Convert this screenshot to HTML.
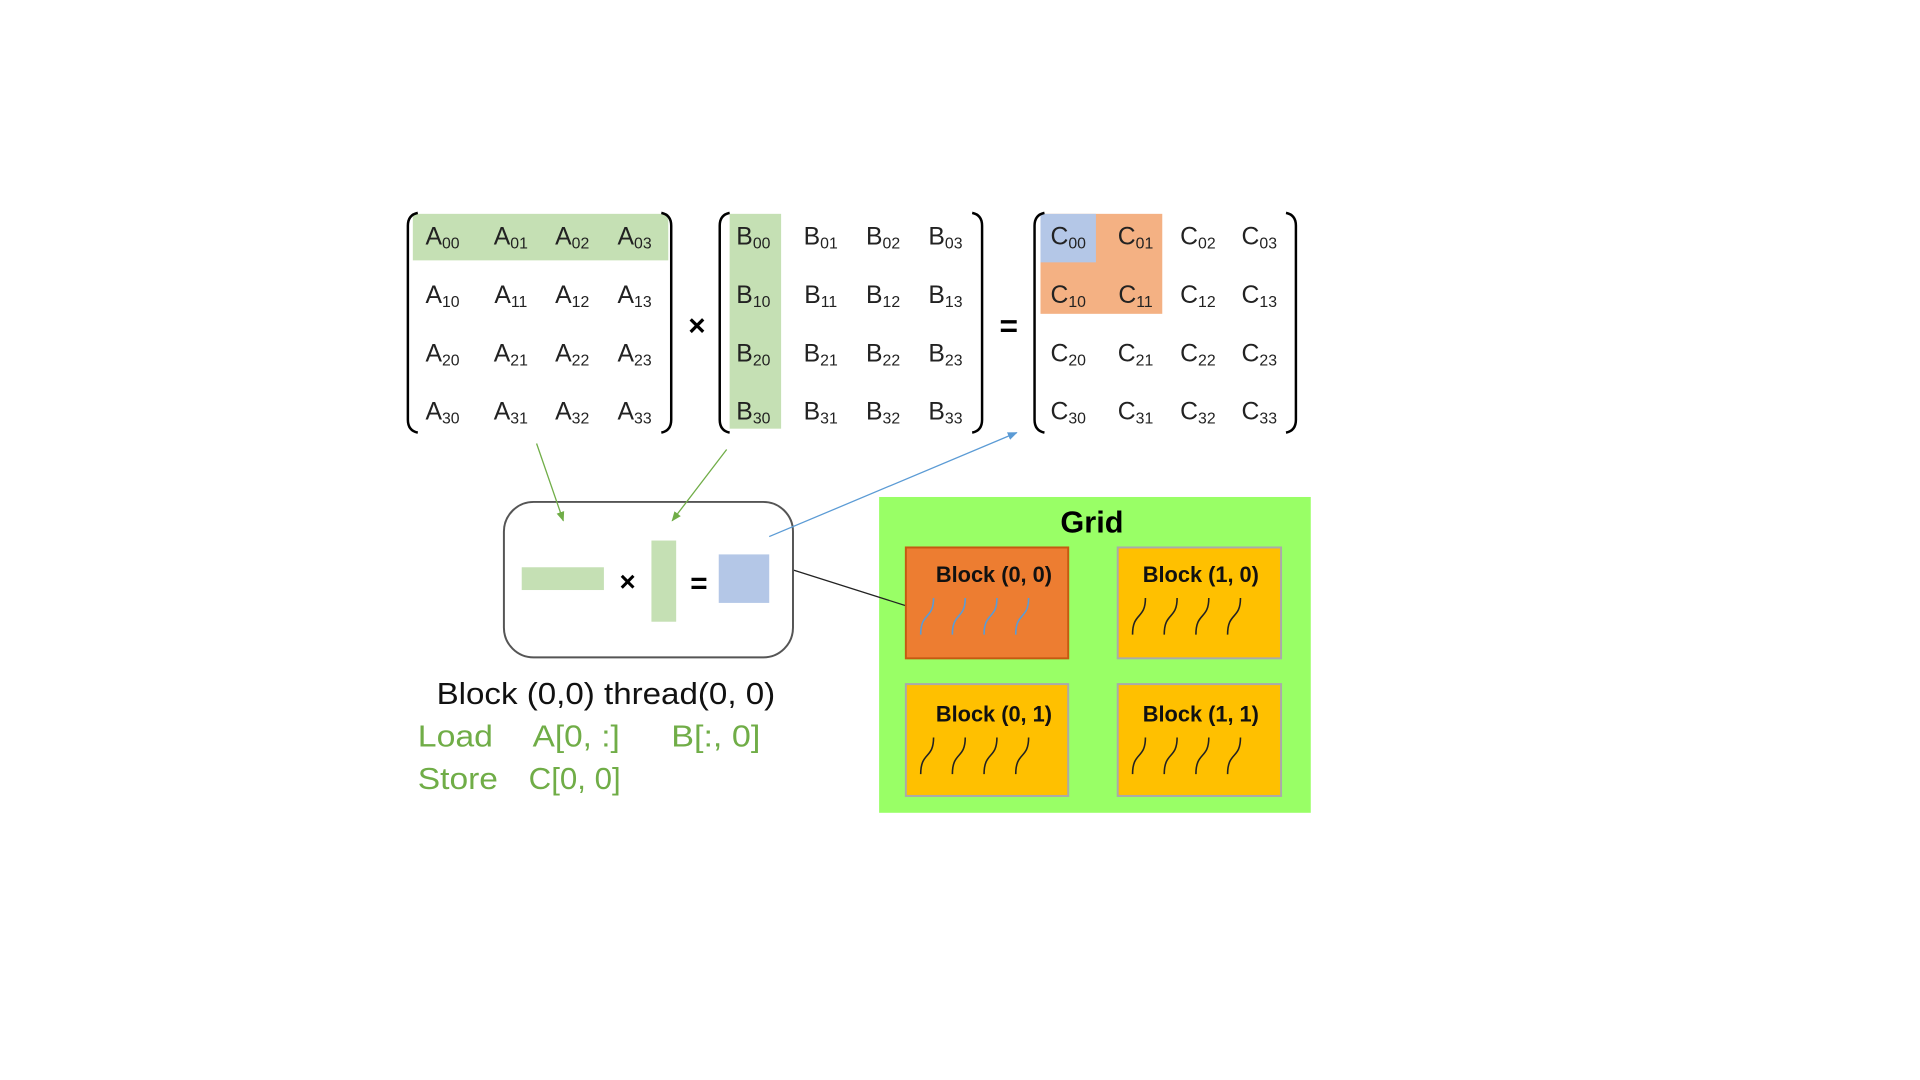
<!DOCTYPE html>
<html><head><meta charset="utf-8"><style>html,body{margin:0;padding:0;background:#fff}svg{display:block}</style></head>
<body>
<svg width="1920" height="1080" viewBox="0 0 1920 1080" xmlns="http://www.w3.org/2000/svg" font-family="Liberation Sans, sans-serif">
<defs>
<marker id="ag" markerWidth="10" markerHeight="10" refX="9" refY="5" orient="auto" markerUnits="userSpaceOnUse"><path d="M0,1 L10,5 L0,9 z" fill="#70ad47"/></marker>
<marker id="ab" markerWidth="10" markerHeight="10" refX="9" refY="5" orient="auto" markerUnits="userSpaceOnUse"><path d="M0,1 L10,5 L0,9 z" fill="#5b9bd5"/></marker>
</defs>
<g transform="scale(0.99)">
<rect x="417" y="216" width="258" height="47" fill="#c5e0b4"/>
<rect x="737" y="216" width="52" height="217" fill="#c5e0b4"/>
<rect x="1051" y="216" width="123" height="101" fill="#f4b183"/>
<rect x="1051" y="216" width="56" height="49" fill="#b4c7e7"/>
<g fill="none" stroke="#000" stroke-width="2.5">
<path d="M422,215 Q412,217 412,228 L412,424 Q412,435 422,437"/>
<path d="M668,215 Q678,217 678,228 L678,424 Q678,435 668,437"/>
<path d="M737,215 Q727,217 727,228 L727,424 Q727,435 737,437"/>
<path d="M982,215 Q992,217 992,228 L992,424 Q992,435 982,437"/>
<path d="M1055,215 Q1045,217 1045,228 L1045,424 Q1045,435 1055,437"/>
<path d="M1299,215 Q1309,217 1309,228 L1309,424 Q1309,435 1299,437"/>
</g>
<g font-size="25" fill="#222" text-anchor="middle">
<text x="447" y="247">A<tspan font-size="16" dy="4">00</tspan></text>
<text x="516" y="247">A<tspan font-size="16" dy="4">01</tspan></text>
<text x="578" y="247">A<tspan font-size="16" dy="4">02</tspan></text>
<text x="641" y="247">A<tspan font-size="16" dy="4">03</tspan></text>
<text x="447" y="306">A<tspan font-size="16" dy="4">10</tspan></text>
<text x="516" y="306">A<tspan font-size="16" dy="4">11</tspan></text>
<text x="578" y="306">A<tspan font-size="16" dy="4">12</tspan></text>
<text x="641" y="306">A<tspan font-size="16" dy="4">13</tspan></text>
<text x="447" y="365">A<tspan font-size="16" dy="4">20</tspan></text>
<text x="516" y="365">A<tspan font-size="16" dy="4">21</tspan></text>
<text x="578" y="365">A<tspan font-size="16" dy="4">22</tspan></text>
<text x="641" y="365">A<tspan font-size="16" dy="4">23</tspan></text>
<text x="447" y="424">A<tspan font-size="16" dy="4">30</tspan></text>
<text x="516" y="424">A<tspan font-size="16" dy="4">31</tspan></text>
<text x="578" y="424">A<tspan font-size="16" dy="4">32</tspan></text>
<text x="641" y="424">A<tspan font-size="16" dy="4">33</tspan></text>
<text x="761" y="247">B<tspan font-size="16" dy="4">00</tspan></text>
<text x="829" y="247">B<tspan font-size="16" dy="4">01</tspan></text>
<text x="892" y="247">B<tspan font-size="16" dy="4">02</tspan></text>
<text x="955" y="247">B<tspan font-size="16" dy="4">03</tspan></text>
<text x="761" y="306">B<tspan font-size="16" dy="4">10</tspan></text>
<text x="829" y="306">B<tspan font-size="16" dy="4">11</tspan></text>
<text x="892" y="306">B<tspan font-size="16" dy="4">12</tspan></text>
<text x="955" y="306">B<tspan font-size="16" dy="4">13</tspan></text>
<text x="761" y="365">B<tspan font-size="16" dy="4">20</tspan></text>
<text x="829" y="365">B<tspan font-size="16" dy="4">21</tspan></text>
<text x="892" y="365">B<tspan font-size="16" dy="4">22</tspan></text>
<text x="955" y="365">B<tspan font-size="16" dy="4">23</tspan></text>
<text x="761" y="424">B<tspan font-size="16" dy="4">30</tspan></text>
<text x="829" y="424">B<tspan font-size="16" dy="4">31</tspan></text>
<text x="892" y="424">B<tspan font-size="16" dy="4">32</tspan></text>
<text x="955" y="424">B<tspan font-size="16" dy="4">33</tspan></text>
<text x="1079" y="247">C<tspan font-size="16" dy="4">00</tspan></text>
<text x="1147" y="247">C<tspan font-size="16" dy="4">01</tspan></text>
<text x="1210" y="247">C<tspan font-size="16" dy="4">02</tspan></text>
<text x="1272" y="247">C<tspan font-size="16" dy="4">03</tspan></text>
<text x="1079" y="306">C<tspan font-size="16" dy="4">10</tspan></text>
<text x="1147" y="306">C<tspan font-size="16" dy="4">11</tspan></text>
<text x="1210" y="306">C<tspan font-size="16" dy="4">12</tspan></text>
<text x="1272" y="306">C<tspan font-size="16" dy="4">13</tspan></text>
<text x="1079" y="365">C<tspan font-size="16" dy="4">20</tspan></text>
<text x="1147" y="365">C<tspan font-size="16" dy="4">21</tspan></text>
<text x="1210" y="365">C<tspan font-size="16" dy="4">22</tspan></text>
<text x="1272" y="365">C<tspan font-size="16" dy="4">23</tspan></text>
<text x="1079" y="424">C<tspan font-size="16" dy="4">30</tspan></text>
<text x="1147" y="424">C<tspan font-size="16" dy="4">31</tspan></text>
<text x="1210" y="424">C<tspan font-size="16" dy="4">32</tspan></text>
<text x="1272" y="424">C<tspan font-size="16" dy="4">33</tspan></text>
</g>
<text x="704" y="339" font-size="30" font-weight="bold" text-anchor="middle">×</text>
<text x="1019" y="340" font-size="32" font-weight="bold" text-anchor="middle">=</text>
<rect x="509" y="507" width="292" height="157" rx="30" fill="#fff" stroke="#555" stroke-width="2"/>
<line x1="542" y1="448" x2="569" y2="526" stroke="#70ad47" stroke-width="1.3" marker-end="url(#ag)"/>
<line x1="734" y1="454" x2="679" y2="526" stroke="#70ad47" stroke-width="1.3" marker-end="url(#ag)"/>
<line x1="777" y1="542" x2="1027" y2="437" stroke="#5b9bd5" stroke-width="1.3" marker-end="url(#ab)"/>
<rect x="527" y="573" width="83" height="23" fill="#c5e0b4"/>
<text x="634" y="597" font-size="28" font-weight="bold" text-anchor="middle">×</text>
<rect x="658" y="546" width="25" height="82" fill="#c5e0b4"/>
<text x="706" y="599" font-size="30" font-weight="bold" text-anchor="middle">=</text>
<rect x="726" y="560" width="51" height="49" fill="#b4c7e7"/>
<rect x="888" y="502" width="436" height="319" fill="#99ff66"/>
<line x1="802" y1="576" x2="925" y2="615" stroke="#222" stroke-width="1.3"/>
<text x="1103" y="538" font-size="31" font-weight="bold" text-anchor="middle">Grid</text>
<rect x="915" y="553" width="164" height="112" fill="#ed7d31" stroke="#c55a11" stroke-width="2"/>
<rect x="1129" y="553" width="165" height="112" fill="#ffc000" stroke="#aaa" stroke-width="2"/>
<rect x="915" y="691" width="164" height="113" fill="#ffc000" stroke="#aaa" stroke-width="2"/>
<rect x="1129" y="691" width="165" height="113" fill="#ffc000" stroke="#aaa" stroke-width="2"/>
<g font-size="22" font-weight="bold" fill="#111" text-anchor="middle">
<text x="1004" y="588">Block (0, 0)</text>
<text x="1213" y="588">Block (1, 0)</text>
<text x="1004" y="729">Block (0, 1)</text>
<text x="1213" y="729">Block (1, 1)</text>
</g>
<g fill="none" stroke-width="1.6">
<g stroke="#5b9bd5">
<path d="M930,641 C930,618 943,626 943,604"/>
<path d="M962,641 C962,618 975,626 975,604"/>
<path d="M994,641 C994,618 1007,626 1007,604"/>
<path d="M1026,641 C1026,618 1039,626 1039,604"/>
</g>
<g stroke="#222">
<path d="M1144,641 C1144,618 1157,626 1157,604"/>
<path d="M1176,641 C1176,618 1189,626 1189,604"/>
<path d="M1208,641 C1208,618 1221,626 1221,604"/>
<path d="M1240,641 C1240,618 1253,626 1253,604"/>
<path d="M930,782 C930,759 943,767 943,745"/>
<path d="M962,782 C962,759 975,767 975,745"/>
<path d="M994,782 C994,759 1007,767 1007,745"/>
<path d="M1026,782 C1026,759 1039,767 1039,745"/>
<path d="M1144,782 C1144,759 1157,767 1157,745"/>
<path d="M1176,782 C1176,759 1189,767 1189,745"/>
<path d="M1208,782 C1208,759 1221,767 1221,745"/>
<path d="M1240,782 C1240,759 1253,767 1253,745"/>
</g>
</g>
<text x="441" y="711" font-size="31" fill="#111" textLength="342" lengthAdjust="spacingAndGlyphs">Block (0,0) thread(0, 0)</text>
<g font-size="31" fill="#70ad47">
<text x="422" y="754" textLength="76" lengthAdjust="spacingAndGlyphs">Load</text>
<text x="538" y="754" textLength="88" lengthAdjust="spacingAndGlyphs">A[0, :]</text>
<text x="678" y="754" textLength="90" lengthAdjust="spacingAndGlyphs">B[:, 0]</text>
<text x="422" y="797" textLength="81" lengthAdjust="spacingAndGlyphs">Store</text>
<text x="534" y="797" textLength="93" lengthAdjust="spacingAndGlyphs">C[0, 0]</text>
</g>
</g>
</svg>
</body></html>
